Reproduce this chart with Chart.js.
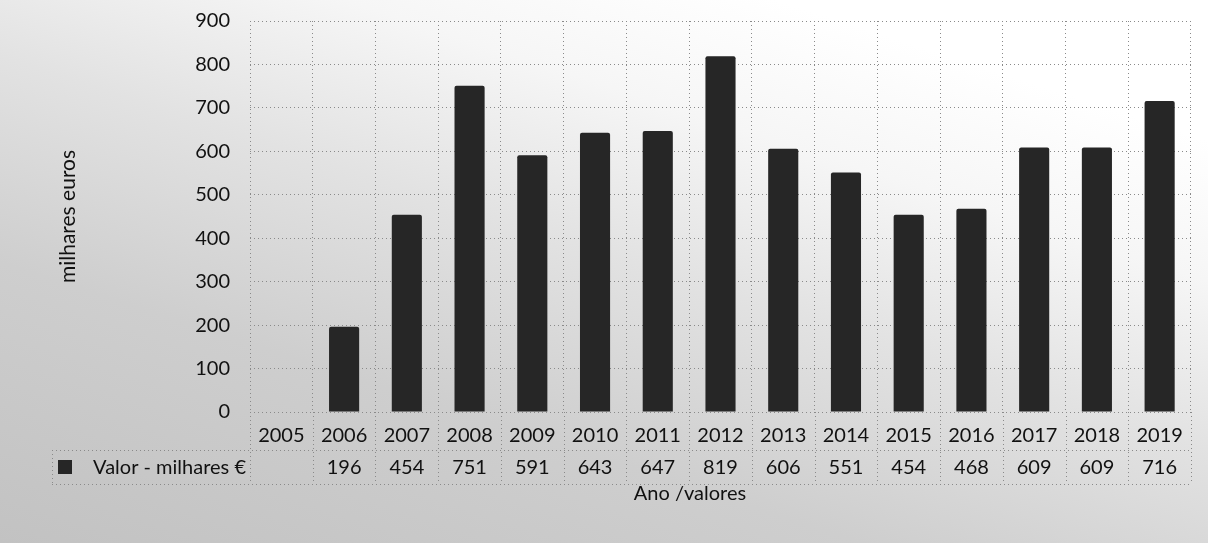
<!DOCTYPE html>
<html>
<head>
<meta charset="utf-8">
<script src="https://cdn.jsdelivr.net/npm/chart.js@4.4.1/dist/chart.umd.min.js"></script>
<style>
  html, body { margin: 0; padding: 0; }
  body {
    width: 1208px; height: 543px; overflow: hidden;
    background: linear-gradient(18deg, #c2c2c2 0%, #cecece 30%, #e2e2e2 52%, #f6f6f6 70%, #ffffff 85%);
  }
  #wrap { width: 1208px; height: 543px; position: relative; }
  canvas { display: block; }
</style>
</head>
<body>
<div id="wrap"><canvas id="myChart" width="1208" height="543"></canvas></div>
<script>
var anos = ["2005","2006","2007","2008","2009","2010","2011","2012","2013","2014","2015","2016","2017","2018","2019"];
var valores = [null, 196, 454, 751, 591, 643, 647, 819, 606, 551, 454, 468, 609, 609, 716];
var serieNome = "Valor - milhares €";
var tituloX = "Ano /valores";
var tituloY = "milhares euros";

var fonte = "Lato, 'Open Sans', sans-serif";
var corBarra = '#262626';
var corGrelha = '#8a8a8a';

// desenha a tabela de dados por baixo do eixo (como no Excel)
var tabelaDados = {
    id: 'tabelaDados',
    afterDraw: function(chart) {
        var c = chart.ctx;
        var x = chart.scales.x;
        var area = chart.chartArea;
        var passo = x.getPixelForValue(1) - x.getPixelForValue(0);
        var y0 = area.bottom, y1 = 450, y2 = 484;
        var esq = 52;
        c.save();
        c.strokeStyle = corGrelha;
        c.lineWidth = 1;
        c.setLineDash([1, 3]);
        c.beginPath();
        c.moveTo(area.left, y0 + 0.5); c.lineTo(area.right, y0 + 0.5);
        c.moveTo(esq, y1 + 0.5); c.lineTo(area.right, y1 + 0.5);
        c.moveTo(esq, y2 + 0.5); c.lineTo(area.right, y2 + 0.5);
        c.moveTo(esq + 0.5, y1); c.lineTo(esq + 0.5, y2);
        for (var i = 0; i <= anos.length; i++) {
            var px = Math.round(x.getPixelForValue(i) - passo / 2) + 0.5;
            c.moveTo(px, y0); c.lineTo(px, y2);
        }
        c.stroke();
        c.setLineDash([]);

        // legenda
        c.fillStyle = corBarra;
        c.fillRect(58, 460, 14, 14);
        c.fillStyle = '#111';
        c.font = "20px " + fonte;
        c.textAlign = 'right';
        c.textBaseline = 'middle';
        c.fillText(serieNome, 246, 468);

        // valores
        c.textAlign = 'center';
        valores.forEach(function(v, i) {
            if (v === null) return;
            c.fillText(String(v), x.getPixelForValue(i), 468);
        });

        // titulo do eixo x
        c.fillText(tituloX, 690, 494);
        c.restore();
    }
};

var ctx = document.getElementById("myChart");
var myChart = new Chart(ctx, {
    type: 'bar',
    data: {
        labels: anos,
        datasets: [{
            label: serieNome,
            data: valores,
            backgroundColor: corBarra,
            borderWidth: 0,
            borderRadius: 2,
            barPercentage: 0.48,
            categoryPercentage: 1
        }]
    },
    options: {
        responsive: false,
        animation: false,
        devicePixelRatio: 1,
        layout: { padding: { left: 50, right: 17, top: 21, bottom: 0 } },
        plugins: {
            legend: { display: false },
            tooltip: { enabled: false }
        },
        scales: {
            x: {
                grid: { color: corGrelha, offset: true, drawTicks: false },
                border: { display: false, dash: [1, 3] },
                ticks: { color: '#111', font: { family: fonte, size: 20 }, padding: 12, maxRotation: 0 },
                afterFit: function(scale) { scale.height = 543 - 412; }
            },
            y: {
                min: 0,
                max: 900,
                grid: { color: corGrelha, drawTicks: false },
                border: { display: false, dash: [1, 3] },
                ticks: { stepSize: 100, color: '#111', font: { family: fonte, size: 20 }, padding: 20 },
                title: { display: true, text: tituloY, color: '#111', font: { family: fonte, size: 21 }, padding: { top: 6, bottom: 0 } },
                afterFit: function(scale) { scale.width = 200; scale.paddingTop = 0; scale.paddingBottom = 0; }
            }
        }
    },
    plugins: [tabelaDados]
});
</script>
</body>
</html>
